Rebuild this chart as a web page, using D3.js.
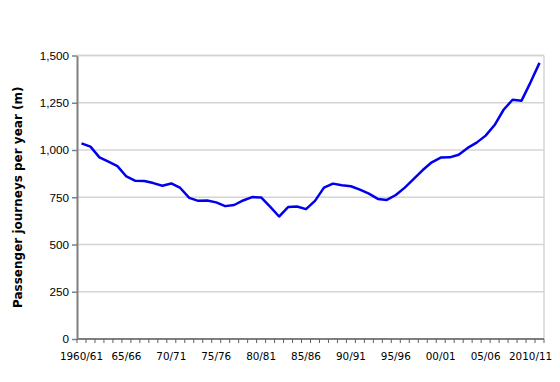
<!DOCTYPE html>
<html>
<head>
<meta charset="utf-8">
<script src="https://cdn.jsdelivr.net/npm/d3@7"></script>
<style>
  body { margin: 0; background: #fff; }
  svg { display: block; font-family: "DejaVu Sans", Verdana, sans-serif; }
</style>
</head>
<body>
<svg id="chart"></svg>
<script>
// Declare data
let years = [];
for (let y = 1960; y <= 2011; y++) {
  years.push(y + "/" + String((y + 1) % 100).padStart(2, "0"));
}

let journeys = [
  1035, 1018, 961, 938, 915, 860, 837, 836, 825, 811,
  823, 799, 747, 731, 733, 723, 703, 709, 733, 751,
  749, 700, 648, 698, 701, 687, 731, 801, 822, 813,
  808, 790, 769, 741, 736, 762, 801, 847, 894, 935,
  960, 961, 975, 1011, 1039, 1076, 1132, 1213, 1266, 1261,
  1358, 1461
];

let xTickLabels = ["1960/61", "65/66", "70/71", "75/76", "80/81", "85/86",
  "90/91", "95/96", "00/01", "05/06", "2010/11"];
let yTicks = [0, 250, 500, 750, 1000, 1250, 1500];

let width = 560;
let height = 382;
let plotLeft = 77;
let plotRight = 544;
let plotTop = 55.5;
let plotBottom = 339;

let svg = d3.select("#chart").attr("width", width).attr("height", height);

let xScale = d3.scaleBand().domain(years).range([plotLeft, plotRight]).padding(0);
let yScale = d3.scaleLinear().domain([0, 1500]).range([plotBottom, plotTop]);

// gridlines
svg.append("g")
  .selectAll("line")
  .data(yTicks.filter((d) => d > 0))
  .enter()
  .append("line")
  .attr("x1", plotLeft)
  .attr("x2", plotRight)
  .attr("y1", (d) => yScale(d))
  .attr("y2", (d) => yScale(d))
  .attr("stroke", "#d4d4d4")
  .attr("stroke-width", 1.5);

// right border
svg.append("line")
  .attr("x1", plotRight).attr("x2", plotRight)
  .attr("y1", plotTop).attr("y2", plotBottom)
  .attr("stroke", "#d4d4d4").attr("stroke-width", 1.5);

// y axis
let yAxis = d3.axisLeft(yScale)
  .tickValues(yTicks)
  .tickFormat(d3.format(","))
  .tickSizeInner(5)
  .tickSizeOuter(0)
  .tickPadding(3);

let yG = svg.append("g")
  .attr("transform", "translate(" + plotLeft + ",0)")
  .call(yAxis);
yG.select(".domain").attr("stroke", "#808080").attr("stroke-width", 2);
yG.selectAll(".tick line").attr("stroke", "#808080").attr("stroke-width", 1.5);
yG.selectAll(".tick text").attr("font-size", 11.7).attr("fill", "#000");

// x axis: ticks between categories, labels every 5 years
let xG = svg.append("g").attr("transform", "translate(0," + plotBottom + ")");
let boundaries = d3.range(years.length + 1).map((i) => plotLeft + i * xScale.bandwidth());
xG.append("line")
  .attr("x1", plotLeft).attr("x2", plotRight)
  .attr("y1", 0).attr("y2", 0)
  .attr("stroke", "#808080").attr("stroke-width", 2);
xG.selectAll(".xtick")
  .data(boundaries)
  .enter()
  .append("line")
  .attr("class", "xtick")
  .attr("x1", (d) => d).attr("x2", (d) => d)
  .attr("y1", 0).attr("y2", 4)
  .attr("stroke", "#606060").attr("stroke-width", 1);
xG.selectAll(".xlabel")
  .data(xTickLabels)
  .enter()
  .append("text")
  .attr("class", "xlabel")
  .attr("x", (d, i) => xScale(years[i * 5]) + xScale.bandwidth() / 2)
  .attr("y", 20.5)
  .attr("text-anchor", "middle")
  .attr("font-size", 10.4)
  .text((d) => d);

// top border
svg.append("line")
  .attr("x1", plotLeft).attr("x2", plotRight)
  .attr("y1", plotTop).attr("y2", plotTop)
  .attr("stroke", "#d4d4d4").attr("stroke-width", 1.5);

// line
let line = d3.line()
  .x((d, i) => xScale(years[i]) + xScale.bandwidth() / 2)
  .y((d) => yScale(d));

svg.append("path")
  .datum(journeys)
  .attr("d", line)
  .attr("fill", "none")
  .attr("stroke", "#0000ee")
  .attr("stroke-width", 2.5)
  .attr("stroke-linejoin", "round");

// y label
svg.append("text")
  .attr("transform", "translate(22," + ((plotTop + plotBottom) / 2) + ") rotate(-90)")
  .attr("text-anchor", "middle")
  .attr("font-size", 12)
  .attr("font-weight", "bold")
  .text("Passenger journeys per year (m)");
</script>
</body>
</html>
